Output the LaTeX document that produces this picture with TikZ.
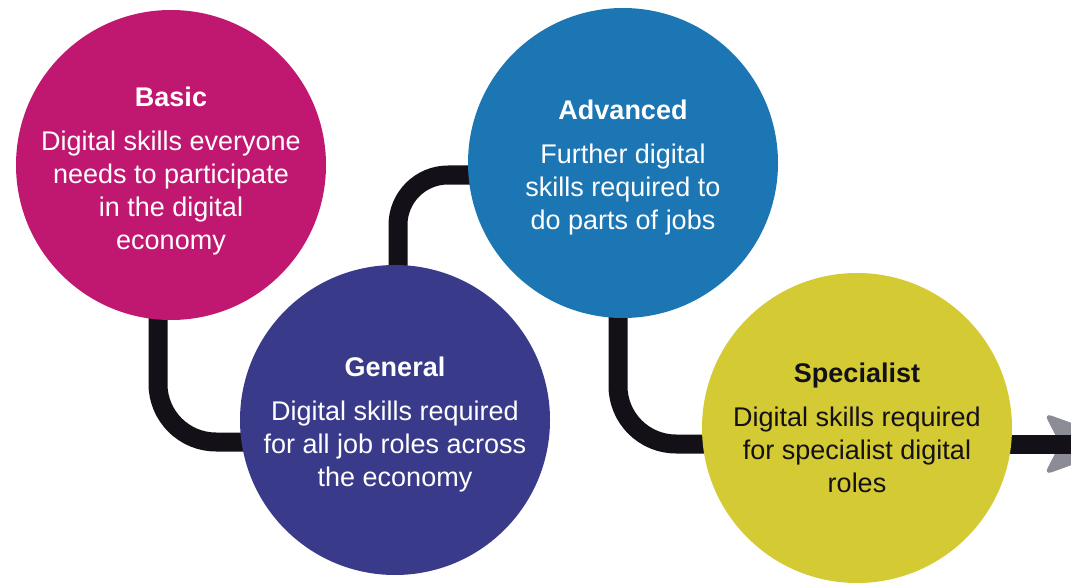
\documentclass[tikz,border=0pt]{standalone}
\usepackage{fontspec}
\setmainfont{Liberation Sans}
\usetikzlibrary{backgrounds}
\definecolor{cBasic}{RGB}{192,24,112}
\definecolor{cGeneral}{RGB}{58,58,138}
\definecolor{cAdv}{RGB}{28,118,180}
\definecolor{cSpec}{RGB}{212,202,52}
\definecolor{cLine}{RGB}{20,16,24}
\definecolor{cHead}{RGB}{140,140,150}
\begin{document}
\begin{tikzpicture}[x=1pt,y=-1pt,
  disc/.style={circle,minimum size=310pt,inner sep=0pt,draw=none},
  txt/.style={align=center,font=\fontsize{27}{33}\selectfont,inner sep=0pt},
  conn/.style={draw=cLine,line width=19pt}]
\useasboundingbox (0,0) rectangle (1071,583);
\clip (0,0) rectangle (1071,583);
\node[disc,fill=cBasic] (b) at (171,165) {};
\node[disc,fill=cGeneral] (g) at (395,420) {};
\node[disc,fill=cAdv] (a) at (623,163) {};
\node[disc,fill=cSpec] (s) at (857,428) {};
\node[txt,text=white] (bt) at ([yshift=-6pt]b.center) {\textbf{Basic}\\[11pt]Digital skills everyone\\needs to participate\\in the digital\\economy};
\node[txt,text=white] (gt) at ([yshift=-5pt]g.center) {\textbf{General}\\[11pt]Digital skills required\\for all job roles across\\the economy};
\node[txt,text=white] (at) at ([yshift=-5pt]a.center) {\textbf{Advanced}\\[11pt]Further digital\\skills required to\\do parts of jobs};
\node[txt,text=cLine] (st) at (s) {\textbf{Specialist}\\[11pt]Digital skills required\\for specialist digital\\roles};
\coordinate (tip) at (1080,444);
\begin{scope}[on background layer]
\draw[conn,rounded corners=58pt] ([xshift=-13pt]b.center) |- ([yshift=-22pt]g.center);
\draw[conn,rounded corners=50pt] ([xshift=3pt]g.center) |- ([yshift=-12pt]a.center);
\draw[conn,rounded corners=58pt] ([xshift=-5pt]a.center) |- ([yshift=-16pt]s.center);
\fill[cHead,rounded corners=8pt] (1044,413) -- (1130,444) -- (1044,475) -- (1060,444) -- cycle;
\draw[conn] ([yshift=-16pt]s.center) -- (tip);
\end{scope}
\end{tikzpicture}
\end{document}
